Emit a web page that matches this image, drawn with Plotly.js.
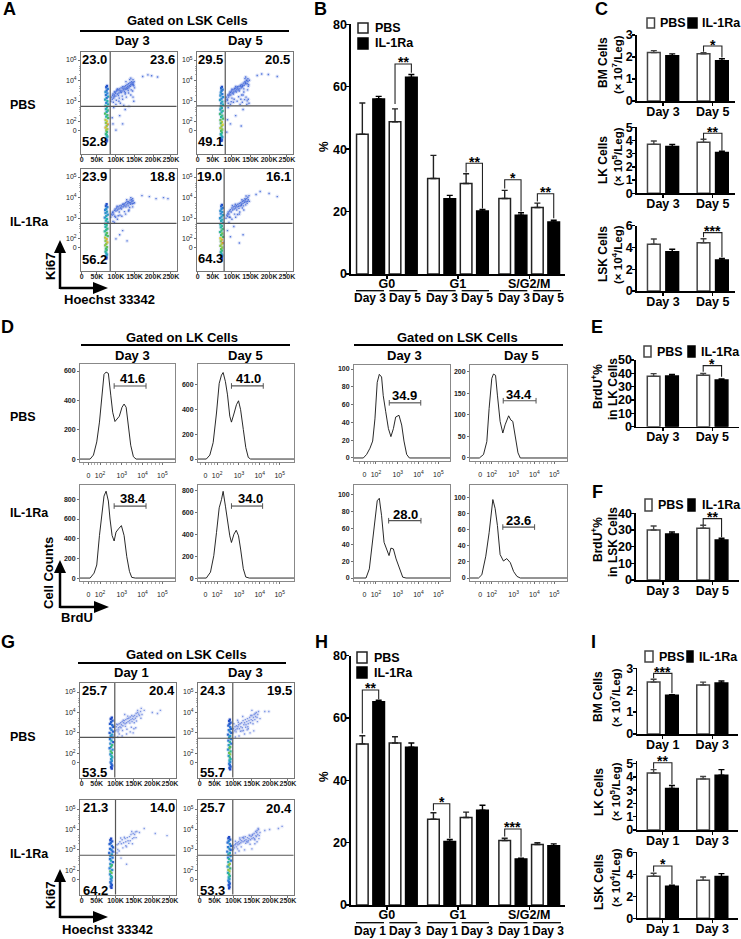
<!DOCTYPE html>
<html><head><meta charset="utf-8">
<script src="https://cdn.plot.ly/plotly-3.0.1.min.js"></script>
<style>html,body{margin:0;padding:0;background:#fff}#c{width:741px;height:939px}</style></head>
<body><div id="c"></div>
<script>
// ---------- Panel B / H bars (%)
const bPbs=[44.8,48.8,30.6,29,24.2,21.3], bPbsErr=[10,4.1,7.4,3.1,2.6,1.4];
const bIl=[56.1,63,24.1,20.2,18.8,16.7], bIlErr=[.8,.9,1.1,.5,.8,.5];
const hPbs=[51.7,52,27.5,28.1,20.7,19.4], hPbsErr=[2.6,2,2.1,1.7,.7,.6];
const hIl=[65.2,50.6,20.4,30.4,14.8,19], hIlErr=[.5,1.4,.6,1.6,.2,.6];
// ---------- Panels C, E, F, I bars
const cBmPbs=[2.2,2.15], cBmPbsErr=[.09,.05], cBmIl=[2.06,1.83], cBmIlErr=[.08,.09];
const cLkPbs=[3.71,3.86], cLkPbsErr=[.25,.24], cLkIl=[3.54,3.1], cLkIlErr=[.17,.08];
const cLskPbs=[4.29,4.44], cLskPbsErr=[.49,.36], cLskIl=[3.61,2.85], cLskIlErr=[.22,.15];
const ePbs=[37.75,38.5], ePbsErr=[2,1.5], eIl=[38,35], eIlErr=[1.25,.75];
const fPbs=[30,31], fPbsErr=[2.4,1.8], fIl=[27.6,24], fIlErr=[1.2,1];
const iBmPbs=[2.37,2.24], iBmPbsErr=[.13,.13], iBmIl=[1.77,2.33], iBmIlErr=[.03,.09];
const iLkPbs=[4.3,3.85], iLkPbsErr=[.25,.18], iLkIl=[3.13,4.13], iLkIlErr=[.22,.42];
const iLskPbs=[3.82,3.45], iLskPbsErr=[.27,.31], iLskIl=[2.91,3.79], iLskIlErr=[.09,.27];
// ---------- Histograms (x = display decades, y = counts)
const lk1X=[1.03,1.52,1.68,1.84,1.97,2.08,2.19,2.29,2.40,2.52,2.61,2.72,2.84,2.93,3.06,3.16,3.26,3.37,3.48,3.61,3.74,5.62];
const lk1Y=[0,0,27,117,252,409,577,593,584,431,319,256,279,292,353,375,353,229,94,16,0,0];
const lk2X=[1.08,1.48,1.65,1.81,1.97,2.10,2.21,2.29,2.40,2.50,2.61,2.69,2.82,2.93,3.03,3.13,3.26,3.38,3.50,3.61,5.7];
const lk2Y=[0,0,32,133,373,613,680,701,627,520,347,299,373,440,472,400,240,93,13,0,0];
const lk3X=[1.03,1.52,1.71,1.84,1.97,2.08,2.19,2.29,2.40,2.48,2.58,2.68,2.77,2.89,3.03,3.16,3.29,3.42,3.53,3.7,5.62];
const lk3Y=[0,0,50,133,433,667,833,883,783,600,433,377,467,500,533,433,217,67,7,0,0];
const lk4X=[1.08,1.48,1.68,1.84,1.97,2.10,2.21,2.29,2.40,2.50,2.61,2.69,2.81,2.92,3.03,3.13,3.26,3.38,3.55,5.7];
const lk4Y=[0,0,54,205,417,644,719,795,659,508,387,326,402,438,387,266,85,9,0,0];
const lsk1X=[.94,1.39,1.55,1.71,1.84,1.95,2.06,2.16,2.27,2.35,2.47,2.60,2.72,2.84,2.95,3.11,3.24,3.35,3.48,3.61,5.57];
const lsk1Y=[0,0,4,11,19,44,85,94,91,70,52,33,24,33,46,48,37,19,4,0,0];
const lsk2X=[.95,1.40,1.60,1.76,1.87,2.0,2.08,2.18,2.27,2.40,2.53,2.64,2.81,2.92,3.01,3.13,3.26,3.37,5.62];
const lsk2Y=[0,0,8,38,115,185,195,192,146,85,58,77,98,88,85,46,12,0,0];
const lsk3X=[.94,1.52,1.68,1.84,1.95,2.06,2.16,2.27,2.39,2.52,2.63,2.72,2.84,2.97,3.13,3.29,3.45,5.57];
const lsk3Y=[0,0,11,43,67,93,96,75,43,35,27,36,35,23,11,1,0,0];
const lsk4X=[.95,1.36,1.52,1.71,1.87,1.95,2.05,2.16,2.27,2.40,2.56,2.72,2.89,3.05,3.21,3.37,5.62];
const lsk4Y=[0,0,4,27,56,77,97,86,65,29,21,24,19,8,2,0,0];
const histTickVals=[1.44,2,3.05,4.05,5.01];
const histTickText=['0','10<sup>2</sup>','10<sup>3</sup>','10<sup>4</sup>','10<sup>5</sup>'];
// ---------- Flow plots (x in K, y in display decades, d = density)
const a1BandX=[76,74,78,75,72,77,73,79,75,71,77,74,79,72,76,73,78,75,71,77,74,79,72,76,73,78,75,72,77,74,76,73,75,77,74,76,75];
const a1BandY=[3.75,3.68,3.6,3.52,3.45,3.38,3.3,3.22,3.15,3.08,3,2.92,2.85,2.78,2.7,2.62,2.55,2.48,2.4,2.32,2.25,2.18,2.1,2.02,1.95,1.88,1.8,1.72,1.65,1.58,1.5,1.42,1.35,1.28,1.2,1.12,1.05];
const a1BandD=[.05,.1,.2,.15,.3,.25,.2,.35,.2,.4,.45,.25,.4,.5,.45,.4,.55,.4,.6,.6,.45,.6,.75,.8,.7,.9,.7,.85,.75,.7,.55,.55,.5,.4,.35,.2,.05];
const a1ArmX=[86,88,90,92,94,96,98,100,102,104,106,108,110,112,114,116,118,120,122,124,126,128,130,132,134,136,138,140,142,144,146,148,146,140,134,140,146,128,118,108,100,94,125,145,148,172,186,196,212,92,100,118,110,125,90,135,91,95,99,103,107,111,115,119,123,127,131,135,139,143,147,93,101,109,117,125,133,141,149,127,137,112,121,104,96,150];
const a1ArmY=[3,3.2,3.1,3.35,3.15,3.3,3.45,3.25,3.5,3.35,3.55,3.4,3.6,3.45,3.65,3.5,3.7,3.55,3.7,3.6,3.75,3.65,3.8,3.7,3.85,3.75,3.9,3.8,3.95,3.8,3.9,3.75,4.05,4.12,3.4,3.3,3.2,3.2,3.1,3,2.85,2.7,3.35,3.5,3,4.2,4.28,4.24,4.18,1.9,1.6,1.9,2.3,2.6,2.2,2.75,3.28,3.22,3.38,3.55,3.28,3.52,3.42,3.62,3.48,3.58,3.62,3.65,3.72,3.88,3.82,2.95,3.05,3.15,3.25,3.42,3.52,3.55,3.95,3.95,4.05,2.9,2.8,3.6,3.45,3.65];
const a2BandX=[73,71,75,72,70,74,69,76,72,68,74,71,76,70,73,69,75,72,68,74,71,76,69,73,70,75,72,69,74,71,73,70,72,74,71,73,72];
const a2BandY=[3.7,3.63,3.56,3.5,3.42,3.35,3.28,3.2,3.13,3.06,2.98,2.9,2.83,2.75,2.68,2.6,2.53,2.46,2.38,2.3,2.23,2.16,2.08,2,1.93,1.86,1.78,1.7,1.63,1.56,1.48,1.4,1.33,1.26,1.2,1.14,1.08];
const a2BandD=[.05,.15,.2,.2,.3,.2,.3,.3,.25,.35,.4,.3,.4,.45,.4,.35,.5,.4,.55,.55,.45,.6,.65,.75,.6,.8,.7,.75,.7,.6,.55,.45,.45,.35,.3,.15,.05];
const a2ArmX=[83,85,87,89,91,93,95,97,99,101,103,105,107,109,111,113,115,117,119,121,123,125,127,129,131,133,135,137,139,141,143,145,143,137,130,138,144,124,114,104,96,90,132,142,146,168,180,198,222,96,110,125,88,130,86,140,88,92,96,100,104,108,112,116,120,124,128,132,136,140,144,90,98,106,118,126,134,141,128,122,110,100,147,135];
const a2ArmY=[3,3.2,3.1,3.3,3.2,3.35,3.45,3.3,3.5,3.4,3.55,3.45,3.6,3.5,3.65,3.55,3.7,3.55,3.72,3.6,3.78,3.65,3.82,3.75,3.88,3.78,3.95,3.85,4,3.85,3.95,3.8,4.1,4.18,3.3,3.2,3.1,3.1,3,2.95,2.85,2.7,3.45,3.55,2.9,4.25,4.32,4.3,4.2,1.9,2.3,1.8,2.1,2.6,1.5,2.85,3.05,3.28,3.42,3.58,3.35,3.62,3.45,3.63,3.5,3.72,3.7,3.6,3.9,4.02,3.72,2.9,2.98,3.1,3.22,3.3,3.08,3.02,2.95,2.85,3.72,3.15,4.02,4.1];
const a3BandX=[75,73,77,74,71,76,72,78,74,70,76,73,78,71,75,72,77,74,70,76,73,78,71,75,72,77,74,71,76,73,75,72,74,76,73,75,74];
const a3BandY=[3.68,3.6,3.54,3.46,3.4,3.32,3.25,3.18,3.1,3.03,2.96,2.88,2.8,2.73,2.66,2.58,2.5,2.43,2.36,2.28,2.2,2.13,2.06,1.98,1.9,1.83,1.76,1.68,1.6,1.53,1.46,1.38,1.3,1.23,1.16,1.1,1.04];
const a3BandD=[.05,.1,.2,.3,.25,.35,.3,.3,.4,.3,.45,.45,.35,.45,.5,.45,.55,.5,.5,.65,.55,.6,.75,.85,.7,.85,.7,.7,.65,.6,.55,.5,.4,.35,.3,.2,.05];
const a3ArmX=[86,88,90,92,94,96,98,100,102,104,106,108,110,112,114,116,118,120,122,124,126,128,130,132,134,136,138,140,142,144,146,140,134,126,116,104,96,135,145,150,170,190,208,228,240,100,118,130,110,92,91,97,103,109,115,121,127,133,139,145,99,111,123,137,143,147,106,129];
const a3ArmY=[3.05,3.2,3.15,3.3,3.2,3.38,3.45,3.35,3.5,3.4,3.55,3.45,3.6,3.5,3.62,3.55,3.68,3.55,3.7,3.6,3.75,3.65,3.8,3.7,3.8,3.75,3.88,3.75,3.9,3.7,3.85,4,3.35,3.2,3.1,2.95,2.8,3.4,3.55,3.75,4.1,4.05,3.95,4,3.95,2,2.4,1.9,2.2,2.85,3.28,3.1,3.58,3.3,3.45,3.65,3.55,3.6,3.68,3.95,3.05,3.15,3.32,3.52,3.82,3.72,3.12,3.9];
const a4BandX=[73,71,75,72,69,74,70,76,72,68,74,71,76,69,73,70,75,72,68,74,71,76,69,73,70,75,72,69,74,71,73,70,72,74,71,73,72];
const a4BandY=[3.65,3.58,3.5,3.44,3.36,3.3,3.22,3.15,3.08,3,2.93,2.86,2.78,2.7,2.63,2.56,2.48,2.4,2.33,2.26,2.18,2.1,2.03,1.96,1.88,1.8,1.73,1.66,1.58,1.5,1.43,1.36,1.28,1.2,1.14,1.08,1.02];
const a4BandD=[.05,.15,.2,.25,.3,.3,.25,.35,.35,.3,.4,.4,.35,.45,.5,.45,.55,.55,.5,.65,.55,.6,.8,.85,.7,.95,.75,.7,.7,.65,.55,.5,.4,.35,.3,.15,.05];
const a4ArmX=[84,86,88,90,92,94,96,98,100,102,104,106,108,110,112,114,116,118,120,122,124,126,128,130,132,134,136,138,140,142,144,138,132,120,110,100,92,128,146,165,176,200,222,96,120,88,130,105,89,95,101,107,113,119,125,131,137,143,93,109,121,135,141,147,115,127];
const a4ArmY=[3,3.15,3.1,3.3,3.2,3.35,3.42,3.3,3.5,3.4,3.55,3.45,3.58,3.5,3.62,3.55,3.68,3.58,3.72,3.6,3.75,3.68,3.82,3.72,3.85,3.78,3.9,3.8,3.95,3.82,3.9,4.08,3.4,3.2,3.05,2.95,2.8,3.5,4.1,4.15,4.3,4.2,4.05,2.1,1.8,2.4,2.2,2.6,3.22,3.05,3.62,3.2,3.4,3.48,3.62,3.6,3.65,4.02,3.05,3.68,3.3,3.95,3.72,3.82,3.18,3.9];
const g1BandX=[90,87,92,88,85,91,94,86,89,93,84,90,87,92,85,89,94,86,91,88,84,92,87,90,86,89,91,88,90,87,89,91,88,90];
const g1BandY=[3.75,3.68,3.6,3.52,3.44,3.38,3.3,3.22,3.15,3.06,3,2.92,2.85,2.78,2.7,2.62,2.55,2.48,2.4,2.32,2.25,2.18,2.1,2.02,1.95,1.88,1.8,1.72,1.64,1.56,1.48,1.4,1.32,1.26];
const g1BandD=[.03,.05,.08,.12,.1,.18,.1,.15,.25,.12,.12,.35,.3,.2,.2,.4,.1,.3,.55,.5,.2,.3,.55,.6,.3,.45,.4,.35,.3,.2,.15,.1,.08,.03];
const g1ArmX=[100,102,104,106,108,110,112,114,116,118,120,122,124,126,128,130,132,134,136,138,140,142,144,146,148,150,152,154,156,158,160,165,168,172,170,160,150,140,130,118,106,96,155,178,200,214,222,110,148,125,103,109,115,121,127,133,139,145,151,157,163,169,107,131,143,119];
const g1ArmY=[3.1,3.3,3.15,3.4,3.25,3.45,3.3,3.5,3.4,3.55,3.35,3.5,3.6,3.45,3.65,3.5,3.7,3.55,3.72,3.6,3.78,3.65,3.85,3.7,3.8,3.65,3.85,3.72,3.95,3.8,4,3.85,4.05,3.9,4.2,4.1,3.2,3.05,2.95,2.85,2.8,2.9,3.25,4.1,4,3.95,4.1,2.95,3,3.9,3.42,3.15,3.25,3.62,3.32,3.82,3.48,3.55,3.5,3.58,3.92,3.72,3.05,3.18,3.28,3.12];
const g2BandX=[90,88,92,89,86,91,93,87,90,94,85,91,88,93,86,90,94,87,91,89,85,92,88,91,87,90,92,89,91,88,90,92,89,91];
const g2BandY=[3.65,3.58,3.5,3.43,3.36,3.28,3.2,3.14,3.06,3,2.92,2.85,2.78,2.7,2.62,2.55,2.48,2.4,2.32,2.25,2.18,2.1,2.02,1.95,1.88,1.8,1.72,1.65,1.57,1.5,1.42,1.35,1.28,1.22];
const g2BandD=[.03,.06,.1,.1,.12,.2,.15,.18,.3,.15,.15,.35,.35,.25,.2,.5,.2,.35,.6,.65,.3,.5,.65,.7,.35,.55,.45,.4,.3,.25,.15,.12,.08,.03];
const g2ArmX=[98,100,102,104,106,108,110,112,114,116,118,120,122,124,126,128,130,132,134,136,138,140,142,144,146,148,150,152,154,156,158,160,162,164,166,168,155,145,130,115,105,150,172,185,196,125,140,101,107,113,119,127,133,139,147,153,159,165,111,123,137];
const g2ArmY=[3,3.2,3.1,3.3,3.15,3.35,3.2,3.3,3.4,3.2,3.45,3.3,3.5,3.25,3.6,3.4,3.5,3.65,3.4,3.55,3.7,3.45,3.6,3.75,3.5,3.65,3.85,3.6,3.75,3.9,3.65,3.8,4,3.75,3.9,4.05,3.1,3,2.95,2.85,2.8,4.1,3.7,4.05,4.05,3.8,3.2,3.45,3.05,3.52,3.08,3.12,3.28,3.3,3.85,3.45,3.95,3.55,3.62,3.1,3.15];
const g3BandX=[88,86,91,87,84,90,93,85,89,92,83,90,86,92,85,88,93,86,90,87,84,91,86,89,85,88,90,87,89,86,88,90,87,89];
const g3BandY=[3.55,3.48,3.42,3.35,3.28,3.2,3.12,3.05,3,2.92,2.85,2.78,2.7,2.62,2.55,2.48,2.4,2.32,2.25,2.18,2.1,2.02,1.95,1.88,1.8,1.72,1.65,1.58,1.5,1.42,1.35,1.28,1.22,1.15];
const g3BandD=[.03,.05,.08,.15,.12,.18,.1,.15,.25,.12,.15,.35,.3,.2,.2,.4,.15,.3,.55,.55,.25,.3,.6,.65,.3,.45,.4,.3,.25,.2,.12,.1,.06,.03];
const g3ArmX=[100,104,108,112,116,118,122,126,128,132,134,138,140,142,146,148,150,152,156,158,120,130,146,110,104,165,178,208,240,115,130,96,106,114,124,136,144,154,128];
const g3ArmY=[3.1,3.25,3.3,3.4,3.3,3.5,3.35,3.55,3.4,3.6,3.45,3.65,3.45,3.75,3.55,3.8,3.6,3.75,3.6,3.9,3.1,3.15,3.3,2.95,2.85,3.85,4.05,3.8,3.7,2.6,2.3,2.9,3.02,3.58,3.62,3.32,3.9,3.88,3.2];
const g4BandX=[88,86,91,87,84,90,93,85,89,92,83,90,86,92,85,88,93,86,90,87,84,91,86,89,85,88,90,87,89,86,88,90,87,89,88];
const g4BandY=[3.62,3.56,3.5,3.43,3.36,3.28,3.2,3.14,3.06,3,2.92,2.85,2.78,2.7,2.62,2.55,2.48,2.4,2.32,2.25,2.18,2.1,2.02,1.95,1.88,1.8,1.72,1.65,1.57,1.5,1.42,1.35,1.28,1.2,1.12];
const g4BandD=[.03,.06,.12,.25,.18,.3,.15,.2,.35,.15,.2,.4,.4,.3,.25,.5,.2,.4,.7,.7,.35,.55,.7,.75,.4,.55,.5,.4,.35,.25,.18,.12,.08,.05,.03];
const g4ArmX=[96,98,100,102,104,106,108,110,112,114,116,118,120,122,124,126,128,130,132,134,136,138,140,142,144,146,148,150,152,154,156,158,160,162,164,166,168,170,172,150,158,164,130,115,105,185,198,222,232,99,105,111,117,127,133,139,145,151,157,163,169,121,143,161,167];
const g4ArmY=[3,3.15,3.2,3.1,3.25,3.3,3.15,3.35,3.25,3.4,3.3,3.5,3.35,3.45,3.6,3.4,3.55,3.45,3.65,3.5,3.4,3.6,3.45,3.55,3.7,3.5,3.65,3.55,3.75,3.6,3.8,3.5,3.9,3.65,3.95,3.75,4,3.7,3.85,3.05,3.3,3.4,3,2.95,2.85,3.95,4,4.05,4.15,3.02,3.42,3.05,3.58,3.62,3.32,3.38,3.28,3.72,3.55,3.85,3.55,3.15,3.72,3.7,4.05];
const flowXTickVals=[8,49,100,150,200,248];
const flowXTickText=['0','50K','100K','150K','200K','250K'];
const flowYTickVals=[1.56,2,3,4,5];
const flowYTickText=['0','10<sup>2</sup>','10<sup>3</sup>','10<sup>4</sup>','10<sup>5</sup>'];

const W=741,H=939,FONT='"Liberation Sans",Arial,sans-serif';
const traces=[],shapes=[],annotations=[];
const layout={width:W,height:H,margin:{l:0,r:0,t:0,b:0},paper_bgcolor:'#fff',plot_bgcolor:'#fff',showlegend:false,font:{family:FONT,color:'#000'},shapes,annotations};
let axN=0;
const px=x=>x/W, py=y=>1-y/H;
function addAxes(x0,y0,x1,y1,xo,yo){axN++;const n=axN===1?'':String(axN);
 layout['xaxis'+n]=Object.assign({domain:[px(x0),px(x1)],anchor:'y'+n,zeroline:false,showgrid:false,fixedrange:true,tickangle:0},xo);
 layout['yaxis'+n]=Object.assign({domain:[py(y1),py(y0)],anchor:'x'+n,zeroline:false,showgrid:false,fixedrange:true,tickangle:0},yo);
 return {x:'x'+n,y:'y'+n};}
function txt(t,x,y,size,o){annotations.push(Object.assign({text:t,xref:'paper',yref:'paper',x:px(x),y:py(y),xanchor:'center',yanchor:'middle',showarrow:false,font:{family:FONT,size,color:'#000',weight:700}},o||{}));}
function hline(x0,x1,y,w,c){shapes.push({type:'line',xref:'paper',yref:'paper',x0:px(x0),x1:px(x1),y0:py(y),y1:py(y),line:{color:c||'#000',width:w}});}
function rect(x0,y0,x1,y1,fill,c){shapes.push({type:'rect',xref:'paper',yref:'paper',x0:px(x0),x1:px(x1),y0:py(y0),y1:py(y1),fillcolor:fill,line:{color:c||'#000',width:1.5}});}
function arrows(cx,cy,topY,rightX){
 shapes.push({type:'line',xref:'paper',yref:'paper',x0:px(cx),x1:px(cx),y0:py(cy+1),y1:py(topY+10),line:{color:'#000',width:2.5}});
 shapes.push({type:'line',xref:'paper',yref:'paper',x0:px(cx),x1:px(rightX-12),y0:py(cy),y1:py(cy),line:{color:'#000',width:2.5}});
 shapes.push({type:'path',xref:'paper',yref:'paper',path:`M${px(cx)},${py(topY)}L${px(cx-6)},${py(topY+13)}L${px(cx+6)},${py(topY+13)}Z`,fillcolor:'#000',line:{width:0}});
 shapes.push({type:'path',xref:'paper',yref:'paper',path:`M${px(rightX)},${py(cy)}L${px(rightX-15)},${py(cy-6)}L${px(rightX-15)},${py(cy+6)}Z`,fillcolor:'#000',line:{width:0}});
}
const COLORS=[[0,'#1f3fc4'],[.25,'#2f86d8'],[.45,'#25b7a8'],[.62,'#4fc05a'],[.8,'#d9cf35'],[1,'#d8702a']];
function flow(x0,y0,gx,gy,bx,by,bd,ax,ay,armCol,yr,h,glow){
 const a=addAxes(x0,y0,x0+95.5,y0+h,
  {range:[yr.xmin,263],showline:true,mirror:true,linecolor:'#777',linewidth:1,ticks:'outside',ticklen:2,tickwidth:.7,tickcolor:'#333',tickvals:flowXTickVals,ticktext:flowXTickText,tickfont:{size:7,family:FONT,weight:700,color:'#222'},ticklabelstandoff:-3},
  {range:yr.y,showline:true,mirror:true,linecolor:'#777',linewidth:1,ticks:'outside',ticklen:2,tickwidth:.7,tickcolor:'#333',tickvals:flowYTickVals,ticktext:flowYTickText,tickfont:{size:7,family:FONT,color:'#222'},minor:{tickvals:[2.3,2.48,2.6,2.7,3.3,3.48,3.6,3.7,4.3,4.48,4.6,4.7],ticks:'outside',ticklen:1.5,tickwidth:.5,tickcolor:'#555'}});
 // soft underlay of the same cells, then the cells themselves
 traces.push({type:'scatter',mode:'markers',x:ax,y:ay,xaxis:a.x,yaxis:a.y,marker:{size:4,color:armCol,opacity:glow,line:{width:0}},hoverinfo:'skip'});
 traces.push({type:'scatter',mode:'markers',x:bx,y:by,xaxis:a.x,yaxis:a.y,marker:{size:4.5,color:'#3f66d8',opacity:.1,line:{width:0}},hoverinfo:'skip'});
 traces.push({type:'scatter',mode:'markers',x:ax,y:ay,xaxis:a.x,yaxis:a.y,marker:{size:1.4,symbol:'square',color:armCol,opacity:.85,line:{width:0}},hoverinfo:'skip'});
 traces.push({type:'scatter',mode:'markers',x:bx,y:by,xaxis:a.x,yaxis:a.y,marker:{size:2.3,symbol:'square',color:bd,cmin:0,cmax:1,colorscale:COLORS,showscale:false,line:{width:0}},hoverinfo:'skip'});
 shapes.push({type:'line',xref:a.x,yref:a.y+' domain',x0:gx,x1:gx,y0:0,y1:1,line:{color:'#555',width:1.2},layer:'above'});
 shapes.push({type:'line',xref:a.x+' domain',yref:a.y,x0:0,x1:1,y0:gy,y1:gy,line:{color:'#555',width:1.2},layer:'above'});
}
function hist(x0,y0,x1,y1,xr,yr,ticks,hx,hy,g0,g1,gl){
 const a=addAxes(x0,y0,x1,y1,
  {range:xr,showline:true,mirror:true,linecolor:'#888',linewidth:1,ticks:'outside',ticklen:2,tickwidth:.7,tickcolor:'#333',tickvals:histTickVals,ticktext:histTickText,tickfont:{size:7,family:FONT,color:'#222'},ticklabelstandoff:5,minor:{tickvals:[1.2,1.6,1.75,1.88,2.3,2.5,2.65,2.8,3.3,3.5,3.7,3.85,4.3,4.5,4.7,4.85],ticks:'outside',ticklen:1.5,tickwidth:.5,tickcolor:'#555'}},
  {range:yr,showline:true,mirror:true,linecolor:'#888',linewidth:1,ticks:'outside',ticklen:2,tickwidth:.7,tickcolor:'#333',tickvals:ticks,tickfont:{size:7,family:FONT,weight:700,color:'#222'}});
 traces.push({type:'scatter',mode:'lines',x:hx,y:hy,xaxis:a.x,yaxis:a.y,line:{color:'#111',width:.9},hoverinfo:'skip'});
 traces.push({type:'scatter',mode:'lines+markers',x:[g0,g1],y:[gl,gl],xaxis:a.x,yaxis:a.y,line:{color:'#555',width:1.2},marker:{symbol:'line-ns',size:4,line:{color:'#555',width:1}},hoverinfo:'skip'});
}
function bars(o){
 const a=addAxes(o.l,o.t,o.r,o.b,
  {range:o.xr,showline:true,linecolor:'#000',linewidth:1.6,ticks:'outside',ticklen:3,tickwidth:1.4,tickcolor:'#000',tickvals:o.tv,ticktext:o.tt,tickfont:{size:12.5,family:FONT,weight:700,color:'#000'},ticklabelstandoff:o.so},
  {range:[0,o.ymax],showline:true,linecolor:'#000',linewidth:1.6,ticks:'outside',ticklen:3,tickwidth:1.4,tickcolor:'#000',tickvals:o.yt,tickfont:{size:12.5,family:FONT,weight:700,color:'#000'},ticklabelstandoff:-3});
 traces.push({type:'bar',x:o.wx,y:o.wv,width:o.w,xaxis:a.x,yaxis:a.y,marker:{color:'#fff',line:{color:o.wc||'#222',width:1.5}},error_y:{type:'data',symmetric:false,array:o.we,arrayminus:o.we.map(()=>0),color:o.wc||'#222',thickness:1.4,width:3},hoverinfo:'skip'});
 traces.push({type:'bar',x:o.bx,y:o.bv,width:o.w,xaxis:a.x,yaxis:a.y,marker:{color:'#000',line:{color:'#000',width:1.5}},error_y:{type:'data',symmetric:false,array:o.be,arrayminus:o.be.map(()=>0),color:'#000',thickness:1.4,width:3},hoverinfo:'skip'});
 (o.br||[]).forEach(b=>{
  traces.push({type:'scatter',mode:'lines',x:[b[0],b[0],b[1],b[1]],y:[b[3],b[2],b[2],b[4]],xaxis:a.x,yaxis:a.y,line:{color:'#222',width:1.1},hoverinfo:'skip'});
  annotations.push({text:b[5],xref:a.x,yref:a.y,x:(b[0]+b[1])/2,y:b[2],yshift:1.5,xanchor:'center',yanchor:'middle',showarrow:false,font:{family:FONT,size:14,weight:700,color:'#000'}});
 });
}
function legendV(x0,x1,y1a,y1b,y2a,y2b,tx){rect(x0,y1a,x1,y1b,'#fff','#222');rect(x0,y2a,x1,y2b,'#000','#000');
 txt('PBS',tx,(y1a+y1b)/2,12.5,{xanchor:'left'});txt('IL-1Ra',tx,(y2a+y2b)/2,12.5,{xanchor:'left'});}
function legendH(a,b,c,d,y0,y1,t1,t2,col){rect(a,y0,b,y1,'#fff',col||'#444');rect(c,y0,d,y1,'#000','#000');
 txt('PBS',t1,(y0+y1)/2,12.5,{xanchor:'left'});txt('IL-1Ra',t2,(y0+y1)/2,12.5,{xanchor:'left'});}

// ===== Panel A
const yA={xmin:6,y:[.44,5.39]}, yG={xmin:3.5,y:[.82,5.44]};
flow(81,52,84.6,2.75,a1BandX,a1BandY,a1BandD,a1ArmX,a1ArmY,'#3f66d8',yA,102,.16);
flow(197,52,82,2.78,a2BandX,a2BandY,a2BandD,a2ArmX,a2ArmY,'#3f66d8',yA,102,.16);
flow(81,169,84.6,2.75,a3BandX,a3BandY,a3BandD,a3ArmX,a3ArmY,'#3f66d8',yA,102,.14);
flow(197,169,79,2.75,a4BandX,a4BandY,a4BandD,a4ArmX,a4ArmY,'#3f66d8',yA,102,.14);
// ===== Panel G
flow(80,683,98,2.78,g1BandX,g1BandY,g1BandD,g1ArmX,g1ArmY,'#6a86e0',yG,94.5,.12);
flow(198,683,98,2.74,g2BandX,g2BandY,g2BandD,g2ArmX,g2ArmY,'#6a86e0',yG,94.5,.12);
flow(80,800,100,2.74,g3BandX,g3BandY,g3BandD,g3ArmX,g3ArmY,'#6a86e0',yG,94.5,.1);
flow(198,800,98,2.74,g4BandX,g4BandY,g4BandD,g4ArmX,g4ArmY,'#6a86e0',yG,94.5,.13);
// ===== Panel D
hist(80,364,175,462,[1.03,5.62],[-20,648],[0,200,400,600],lk1X,lk1Y,2.68,4.22,498);
hist(198,364,294,462,[1.08,5.7],[-24,770],[0,200,400,600],lk2X,lk2Y,2.69,4.22,592);
hist(80,485,175,581,[1.03,5.62],[-30,946],[0,200,400,600,800],lk3X,lk3Y,2.68,4.22,732);
hist(198,485,294,581,[1.08,5.7],[-27,853],[0,200,400,600,800],lk4X,lk4Y,2.69,4.19,660);
hist(354,365,450,461,[.94,5.57],[-3.4,104.5],[0,20,40,60,80,100],lsk1X,lsk1Y,2.64,4.16,62);
hist(470,365,567,461,[.95,5.62],[-7,216],[0,50,100,150,200],lsk2X,lsk2Y,2.55,4.13,133);
hist(354,485,450,581,[.94,5.57],[-3.6,112],[0,20,40,60,80,100],lsk3X,lsk3Y,2.61,4.17,69);
hist(470,485,567,581,[.95,5.62],[-3.7,115],[0,20,40,60,80,100],lsk4X,lsk4Y,2.53,4.06,63);
// ===== Panel B / H
const bigW=[0,2,4.35,6.35,8.71,10.71], bigB=[1,3,5.35,7.35,9.71,11.71];
const bigTv=[1.5,5.85,10.21], bigTt=['G0','G1','S/G2/M'];
bars({l:351,r:565,t:24.3,b:274,xr:[-.694,12.4],ymax:80,yt:[0,20,40,60,80],tv:bigTv,tt:bigTt,so:-6,w:.71,wx:bigW,bx:bigB,wv:bPbs,we:bPbsErr,bv:bIl,be:bIlErr,
 br:[[2,3,67.3,54.5,64.5,'**'],[6.35,7.35,35.5,32.5,21,'**'],[8.71,9.71,30.2,27.4,20,'*'],[10.71,11.71,25.7,23.2,17.9,'**']]});
bars({l:351,r:565,t:655.7,b:905,xr:[-.694,12.4],ymax:80,yt:[0,20,40,60,80],tv:bigTv,tt:bigTt,so:-6,w:.71,wx:bigW,bx:bigB,wv:hPbs,we:hPbsErr,bv:hIl,be:hIlErr,
 br:[[0,1,69,55,66,'**'],[4.35,5.35,32.5,30.3,21.4,'*'],[8.71,9.71,24.4,22,15.5,'***']]});
// ===== Small panels
const sW=[0,2.7], sB=[1,3.7];
function small(l,r,t,b,ymax,yt,xr,wv,we,bv,be,days,br){bars({l,r,t,b,xr,ymax,yt,tv:[.5,3.2],tt:days,so:-5,w:.69,wx:sW,bx:sB,wv,we,bv,be,wc:'#444',br});}
const d35=['Day 3','Day 5'],d13=['Day 1','Day 3'],cx=[-.93,4.41],ex=[-.96,4.65],ix=[-.89,4.62];
small(636.7,735,35,101,3,[0,1,2,3],cx,cBmPbs,cBmPbsErr,cBmIl,cBmIlErr,d35,[[2.7,3.7,2.5,2.24,1.98,'*']]);
small(636.7,735,127.3,193.3,5,[0,1,2,3,4,5],cx,cLkPbs,cLkPbsErr,cLkIl,cLkIlErr,d35,[[2.7,3.7,4.55,4.1,3.23,'**']]);
small(636.7,735,225.7,291,6,[0,2,4,6],cx,cLskPbs,cLskPbsErr,cLskIl,cLskIlErr,d35,[[2.7,3.7,5.36,4.93,3.09,'***']]);
small(636,739,360,426.7,50,[0,10,20,30,40,50],ex,ePbs,ePbsErr,eIl,eIlErr,d35,[[2.7,3.7,45.75,41.25,37.5,'*']]);
small(636,739,513.3,580,40,[0,10,20,30,40],ex,fPbs,fPbsErr,fIl,fIlErr,d35,[[2.7,3.7,36.8,33,25.6,'**']]);
small(637.3,738.3,668.3,734,3,[0,1,2,3],ix,iBmPbs,iBmPbsErr,iBmIl,iBmIlErr,d13,[[0,1,2.77,2.54,1.86,'***']]);
small(637.3,738.3,761,830,5.2,[0,1,2,3,4,5],ix,iLkPbs,iLkPbsErr,iLkIl,iLkIlErr,d13,[[0,1,5.07,4.62,3.45,'**']]);
small(637.3,738.3,852.3,918.3,6,[0,2,4,6],ix,iLskPbs,iLskPbsErr,iLskIl,iLskIlErr,d13,[[0,1,4.76,4.24,3.09,'*']]);

// ===== Text, legends, decorations
[['A',9,9],['B',320,9],['C',601,9],['D',7,327],['E',597,327],['F',597,492],['G',8,642],['H',321,642],['I',593,642]].forEach(l=>txt(l[0],l[1],l[2],18));
// headers
txt('Gated on LSK Cells',187,21,13);hline(80,289,31,2);txt('Day 3',132,40,13);txt('Day 5',245,40,13);
txt('Gated on LK Cells',182,337,13);hline(81,290,345,2);txt('Day 3',132,355,13);txt('Day 5',245,355,13);
txt('Gated on LSK Cells',457,337,13);hline(354,563,345,2);txt('Day 3',404,355,13);txt('Day 5',521,355,13);
txt('Gated on LSK Cells',186,654,13);hline(78,286,663,2);txt('Day 1',131,672,13);txt('Day 3',245,672,13);
// row labels
[['PBS',105],['IL-1Ra',222],['PBS',417],['IL-1Ra',513],['PBS',737],['IL-1Ra',854]].forEach(r=>txt(r[0],8,r[1],12.5,{xanchor:'left'}));
// flow percentages (zoomed read-out)
[['23.0',283,178],['23.6',487,178],['52.8',285,424],['29.5',632,178],['20.5',833,178],['49.1',630,424],['23.9',283,530],['18.8',487,530],['56.2',284,777],['19.0',627,530],['16.1',835,530],['64.3',632,775]].forEach(t=>txt(t[0],t[1]/3,t[2]/3,13));
[['25.7',283,212],['20.4',485,212],['53.5',285,458],['24.3',637,212],['19.5',838,212],['55.7',637,458],['21.3',287,562],['14.0',487,562],['64.2',287,810],['25.7',637,562],['20.4',838,565],['53.3',638,810]].forEach(t=>txt(t[0],t[1]/3,620+t[2]/3,13));
// histogram percentages
[['41.6',132,379],['41.0',248,379],['38.4',133,499],['34.0',250,499],['34.9',404,396],['34.4',519,394],['28.0',406,514],['23.6',518,520]].forEach(t=>txt(t[0],t[1],t[2],13));
// arrows
arrows(60,288,240,108);txt('Ki67',50,267,13,{textangle:-90});txt('Hoechst 33342',109,299,13);
arrows(60,607,560,109);txt('Cell Counts',48,573,13,{textangle:-90});txt('BrdU',77,617,13);
arrows(60,917,869,108);txt('Ki67',50,896,13,{textangle:-90});txt('Hoechst 33342',108,929,13);
// panel B/H sublabels
const sub=[[78,162],[178,262],[293,377],[395,477],[510,592],[610,693]];
const dayX=[120,225,337,440,553,655];
const dB=['Day 3','Day 5','Day 3','Day 5','Day 3','Day 5'],dH=['Day 1','Day 3','Day 1','Day 3','Day 1','Day 3'];
sub.forEach((s,i)=>{hline(330+s[0]/3,330+s[1]/3,290.7,1.3);hline(330+s[0]/3,330+s[1]/3,922.7,1.3);
 txt(dB[i],330+dayX[i]/3,298.5,12);txt(dH[i],330+dayX[i]/3,930.5,12);});
txt('%',324,147,12,{textangle:-90});txt('%',324,777,12,{textangle:-90});
legendV(358,368,23,33,38,49,373);legendV(357,367,652,663,667,678,372);
legendH(647,654.5,688,697,18,28,658,700);
legendH(644,651,688,695,346,357,655,699);
legendH(645,652,688,695,499,511,656,700);
legendH(645,653,687,693,651,662,657,697);
// y titles
const rot={textangle:-90};
txt('BM Cells',603,63,12,rot);txt('(× 10<sup>7</sup>/Leg)',617,65,11.5,rot);
txt('LK Cells',603,160,12,rot);txt('(× 10<sup>5</sup>/Leg)',617,157,11.5,rot);
txt('LSK Cells',603,254,12,rot);txt('(× 10<sup>4</sup>/Leg)',617,255,11.5,rot);
txt('BrdU<sup>+</sup>%',597,387,12,rot);txt('in LK Cells',613,389,12,rot);
txt('BrdU<sup>+</sup>%',597,540,12,rot);txt('in LSK Cells',613,542,12,rot);
txt('BM Cells',598,697,12,rot);txt('(× 10<sup>7</sup>/Leg)',615,698,11.5,rot);
txt('LK Cells',599,792,12,rot);txt('(× 10<sup>5</sup>/Leg)',615,792,11.5,rot);
txt('LSK Cells',599,882,12,rot);txt('(× 10<sup>4</sup>/Leg)',615,878,11.5,rot);

Plotly.newPlot('c',traces,layout,{staticPlot:true,displayModeBar:false});
</script></body></html>
